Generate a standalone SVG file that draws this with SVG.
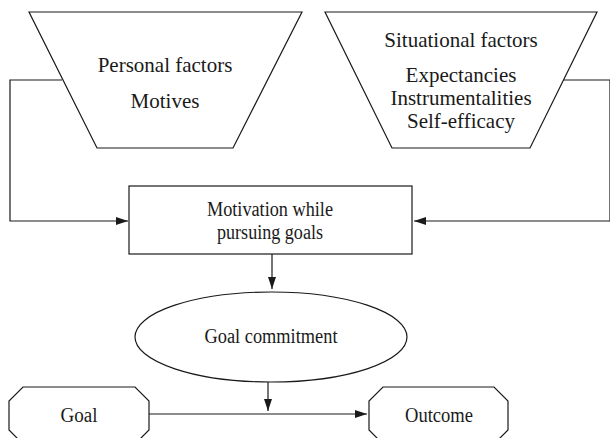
<svg xmlns="http://www.w3.org/2000/svg" width="610" height="438" viewBox="0 0 610 438">
<defs>
<marker id="arr" markerWidth="12" markerHeight="8" refX="12" refY="4" orient="auto" markerUnits="userSpaceOnUse">
<path d="M0,0 L12,4 L0,8 Z" fill="#1a1a1a"/>
</marker>
<style>
.s{fill:#fff;stroke:#1a1a1a;stroke-width:1.2}
.c{fill:none;stroke:#1a1a1a;stroke-width:1.2}
.t{font-family:"Liberation Serif","Times New Roman",serif;font-size:21px;fill:#1a1a1a;text-anchor:middle}
.m{font-size:20px}
</style>
</defs>
<rect width="610" height="438" fill="#fff"/>
<g id="connectors">
<polyline class="c" points="62,80 10,80 10,221 128,221" marker-end="url(#arr)"/>
<polyline class="c" points="563,80 610,80 610,221 414,221" marker-end="url(#arr)"/>
<line class="c" x1="272" y1="254" x2="272" y2="289" marker-end="url(#arr)"/>
<line class="c" x1="268" y1="382" x2="268" y2="411" marker-end="url(#arr)"/>
<line class="c" x1="149" y1="414" x2="367" y2="414" marker-end="url(#arr)"/>
</g>
<g id="personal">
<polygon class="s" points="29,12 302,12 233,148 97,148"/>
<text class="t" x="165" y="72">Personal factors</text>
<text class="t" x="165" y="108">Motives</text>
</g>
<g id="situational">
<polygon class="s" points="325,12 597,12 530,148 392,148"/>
<text class="t" x="461" y="47">Situational factors</text>
<text class="t" x="461" y="82">Expectancies</text>
<text class="t" x="461" y="105">Instrumentalities</text>
<text class="t" x="461" y="128">Self-efficacy</text>
</g>
<g id="motivation">
<rect class="s" x="129" y="186" width="283" height="68"/>
<text class="t m" x="270" y="216" textLength="126" lengthAdjust="spacingAndGlyphs">Motivation while</text>
<text class="t m" x="270" y="239" textLength="106" lengthAdjust="spacingAndGlyphs">pursuing goals</text>
</g>
<g id="commitment">
<ellipse class="s" cx="271" cy="337" rx="136" ry="45"/>
<text class="t m" x="271" y="343" textLength="133" lengthAdjust="spacingAndGlyphs">Goal commitment</text>
</g>
<g id="goal">
<polygon class="s" points="23,387 135,387 149,401 149,430 135,444 23,444 9,430 9,401"/>
<text class="t m" x="79" y="422" textLength="37" lengthAdjust="spacingAndGlyphs">Goal</text>
</g>
<g id="outcome">
<polygon class="s" points="383,387 494,387 508,401 508,430 494,444 383,444 369,430 369,401"/>
<text class="t m" x="439" y="422" textLength="68" lengthAdjust="spacingAndGlyphs">Outcome</text>
</g>
</svg>
